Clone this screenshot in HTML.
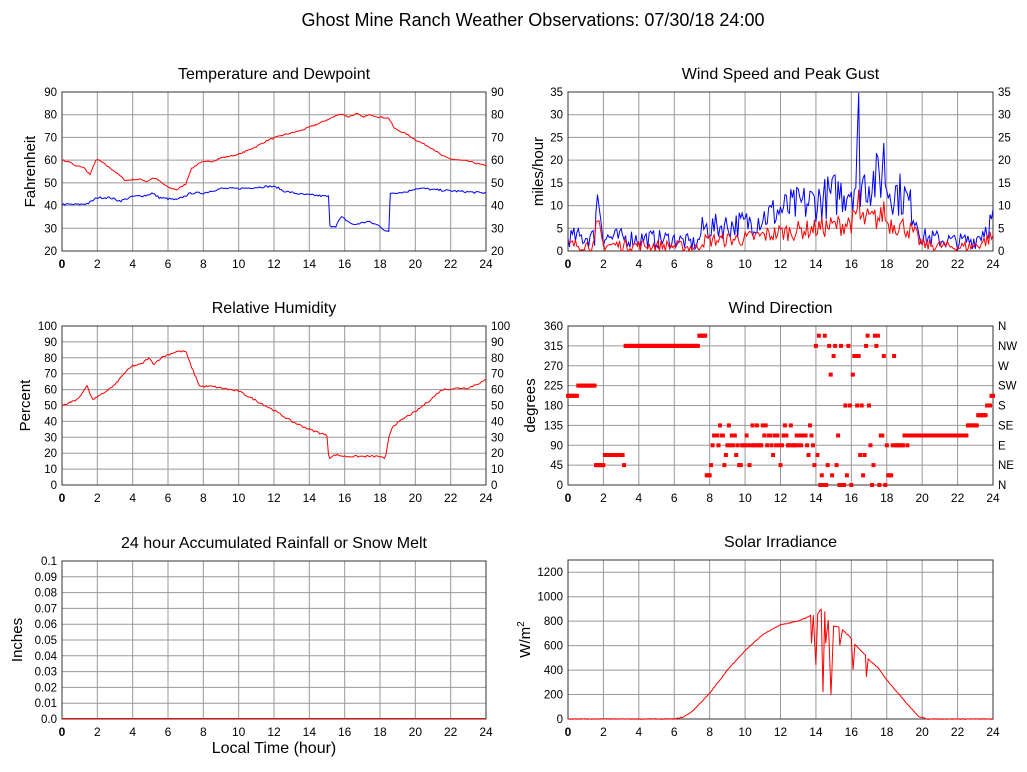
<!DOCTYPE html>
<html><head><meta charset="utf-8"><style>
body{margin:0;background:#fff}
svg{display:block;font-family:"Liberation Sans",sans-serif}
</style></head><body>
<svg id="s" width="1027" height="772" xmlns="http://www.w3.org/2000/svg"></svg>
<script>
const S=document.getElementById('s');let out='';
let seed=7;function rnd(){seed=(seed*16807)%2147483647;return seed/2147483647;}
function interp(pts,t){for(let i=0;i<pts.length-1;i++){if(t<=pts[i+1][0]){const a=pts[i],b=pts[i+1];const f=(t-a[0])/(b[0]-a[0]||1);return a[1]+f*(b[1]-a[1]);}}return pts[pts.length-1][1];}
function panel(o){const {x0,y0,x1,y1,ymin,ymax,ticks,title,ylab,right,rlabels,fmt,lo}=o;
 const X=t=>x0+(x1-x0)*t/24, Y=v=>y1-(y1-y0)*(v-ymin)/(ymax-ymin);
 out+=`<text x="${(x0+x1)/2}" y="${y0-13}" font-size="16" text-anchor="middle">${title}</text>`;
 for(let h=2;h<24;h+=2)out+=`<line x1="${X(h)}" x2="${X(h)}" y1="${y0}" y2="${y1}" stroke="#999"/>`;
 ticks.forEach((v,i)=>{const y=Y(v);if(v>ymin&&v<ymax+1e-9)out+=`<line x1="${x0}" x2="${x1}" y1="${y}" y2="${y}" stroke="#999"/>`;
  out+=`<text x="${x0-5}" y="${y+4}" font-size="11.5" text-anchor="end">${fmt?fmt(v):v}</text>`;
  if(right)out+=`<text x="${x1+5}" y="${y+4}" font-size="11.5">${rlabels?rlabels[i]:v}</text>`;});
 for(let h=0;h<=24;h+=2)out+=`<text x="${X(h)}" y="${y1+17}" font-size="12" text-anchor="middle" ${h==0?'font-weight="bold"':''}>${h}</text>`;
 out+=`<rect x="${x0}" y="${y0}" width="${x1-x0}" height="${y1-y0}" fill="none" stroke="#333"/>`;
 out+=`<text transform="translate(${x0-lo},${(y0+y1)/2}) rotate(-90)" font-size="15" text-anchor="middle">${ylab}</text>`;
 return {X,Y};}
function line(P,pts,noise,col,step){step=step||1/12;let d=[];for(let t=0;t<=24.0001;t+=step){let v=interp(pts,t)+(rnd()-0.5)*noise;d.push(P.X(t).toFixed(1)+','+P.Y(v).toFixed(1));}
 out+=`<polyline points="${d.join(' ')}" fill="none" stroke="${col}" stroke-width="1"/>`;}
function rng(a,b,st){const s=[];for(let v=a;v<=b+1e-9;v+=st)s.push(Math.round(v*100)/100);return s;}

out+=`<text x="533" y="26" font-size="18" text-anchor="middle">Ghost Mine Ranch Weather Observations: 07/30/18 24:00</text>`;
let P=panel({x0:62,y0:92,x1:486,y1:251,ymin:20,ymax:90,ticks:rng(20,90,10),title:'Temperature and Dewpoint',ylab:'Fahrenheit',right:1,lo:27});
line(P,[[0,60],[0.5,59],[0.7,57.5],[1.2,57],[1.6,53.5],[1.9,60],[2.1,60],[3,55],[3.6,51],[4,51.5],[4.5,51.5],[4.8,50.5],[5.1,52],[5.3,52],[6,48],[6.5,47],[7,49.5],[7.3,56],[7.8,59],[8.5,59.5],[9,61],[10,62.5],[11,66],[11.7,69],[12.5,71],[13.5,73],[14.5,76],[15.5,79.5],[15.8,80.5],[16.2,79],[16.7,80.5],[17,79],[17.5,80],[17.9,79],[18.5,78.5],[18.8,74],[19.5,71.5],[20,69],[21,65],[21.5,62],[22,60.5],[23,59.5],[23.5,58.5],[24,57.5]],0.6,'#f00');
line(P,[[0,40.5],[1,40.5],[1.5,41],[2,43.5],[2.7,43.5],[3.3,42],[4,44],[4.8,44.5],[5.1,45.5],[5.5,43.5],[6.5,42.5],[7.3,45.5],[8,45.5],[9,47.5],[10,47.5],[11,48],[11.8,48.5],[12.2,48],[12.5,46.5],[13.5,45],[15.1,44],[15.15,31],[15.5,31],[15.8,35],[16.5,31.5],[17.3,33],[18,31],[18.35,28.5],[18.5,28.5],[18.55,45.5],[19.5,46],[20,47.5],[20.5,47.5],[21,47],[22,46.5],[24,45.5]],0.9,'#00f');
P=panel({x0:568,y0:92,x1:993,y1:251,ymin:0,ymax:35,ticks:rng(0,35,5),title:'Wind Speed and Peak Gust',ylab:'miles/hour',right:1,lo:25});
const wb=[[0,3],[1.5,3],[1.6,12],[1.8,10],[2,3],[6,2.5],[7.3,1.5],[7.6,5],[10,6],[12,9],[14,11],[15.5,13],[16.3,15],[16.4,31],[16.5,15],[17.7,16],[17.8,22],[18,14],[19,12],[19.6,8],[20,3],[22,2],[23,2.5],[24,7]];
function wind(scale,noise,col){let d=[];for(let t=0;t<=24.0001;t+=1/12){let b=interp(wb,t)*scale;let v=Math.max(0,b+(rnd()-0.5)*noise*(0.5+b/8));d.push(P.X(t).toFixed(1)+','+P.Y(v).toFixed(1));}out+=`<polyline points="${d.join(' ')}" fill="none" stroke="${col}"/>`;}
wind(1,5,'#00f');wind(0.45,4,'#f00');
P=panel({x0:62,y0:326,x1:486,y1:485,ymin:0,ymax:100,ticks:rng(0,100,10),title:'Relative Humidity',ylab:'Percent',right:1,lo:32});
line(P,[[0,50],[0.5,52],[1,55],[1.4,63],[1.7,54],[2,55],[3,63],[3.5,70],[4,75],[4.5,76],[4.9,80],[5.2,76],[5.6,80],[6,82],[6.5,84],[7,84],[7.3,75],[7.8,62],[8.5,62],[9,61],[10,59],[11,53],[11.5,50],[12,47],[13,40],[14,35],[14.8,32],[15,31],[15.1,17],[15.5,19],[16,18],[18,18],[18.3,16],[18.5,30],[18.7,37],[19,39],[19.5,43],[20,46],[21,55],[21.5,60],[22.5,61],[23,61],[24,66]],1.2,'#f00');
P=panel({x0:568,y0:326,x1:993,y1:485,ymin:0,ymax:360,ticks:rng(0,360,45),title:'Wind Direction',ylab:'degrees',right:1,rlabels:['N','NE','E','SE','S','SW','W','NW','N'],lo:33});
function dot(t,v){out+=`<rect x="${(P.X(t)-2).toFixed(1)}" y="${(P.Y(v)-2).toFixed(1)}" width="4" height="4" fill="#f00"/>`;}
for(let t=0;t<=24.0001;t+=1/12){let v;
 if(t<0.5)v=202;else if(t<1.5)v=225;else if(t<2)v=45;else if(t<3.1)v=68;else if(t<3.25)v=45;else if(t<7.4)v=315;else if(t<7.75)v=338;else if(t<8)v=22;
 else if(t<14){const c=[90,90,112,90,112,68,90,45,135,90];v=c[Math.floor(rnd()*c.length)];}
 else if(t<18.5){const c=[0,315,315,338,292,90,45,112,68,0,315,22,250,180];v=c[Math.floor(rnd()*c.length)];}
 else if(t<19)v=90;else if(t<22.5)v=(rnd()<0.1?90:112);else if(t<23.1)v=135;else if(t<23.6)v=158;else if(t<23.85)v=180;else v=202;
 dot(t,v);}
P=panel({x0:62,y0:561,x1:486,y1:719,ymin:0,ymax:0.1,ticks:rng(0,0.1,0.01),title:'24 hour Accumulated Rainfall or Snow Melt',ylab:'Inches',fmt:v=>v.toFixed(2).replace(/0$/,'').replace(/\.$/,'.0'),lo:40});
out+=`<line x1="62" x2="486" y1="718.5" y2="718.5" stroke="#f00"/>`;
out+=`<text x="274" y="753" font-size="16" text-anchor="middle">Local Time (hour)</text>`;
P=panel({x0:568,y0:560,x1:993,y1:719,ymin:0,ymax:1300,ticks:rng(0,1200,200),title:'Solar Irradiance',ylab:'W/m<tspan dy="-6" font-size="10">2</tspan>',lo:38});
line(P,[[0,0],[6,0],[6.5,15],[7,60],[8,210],[9,400],[10,560],[11,690],[12,770],[13,800],[13.7,845],[13.75,620],[13.85,850],[14,440],[14.1,860],[14.3,900],[14.4,220],[14.5,880],[14.55,620],[14.7,810],[14.85,200],[15,760],[15.3,750],[15.35,600],[15.5,730],[16,660],[16.1,400],[16.2,610],[16.8,520],[16.85,345],[16.95,490],[17.5,420],[18,320],[19,150],[19.8,20],[20.3,0],[24,0]],6,'#f00',1/20);
S.innerHTML=out;
</script>
</body></html>
